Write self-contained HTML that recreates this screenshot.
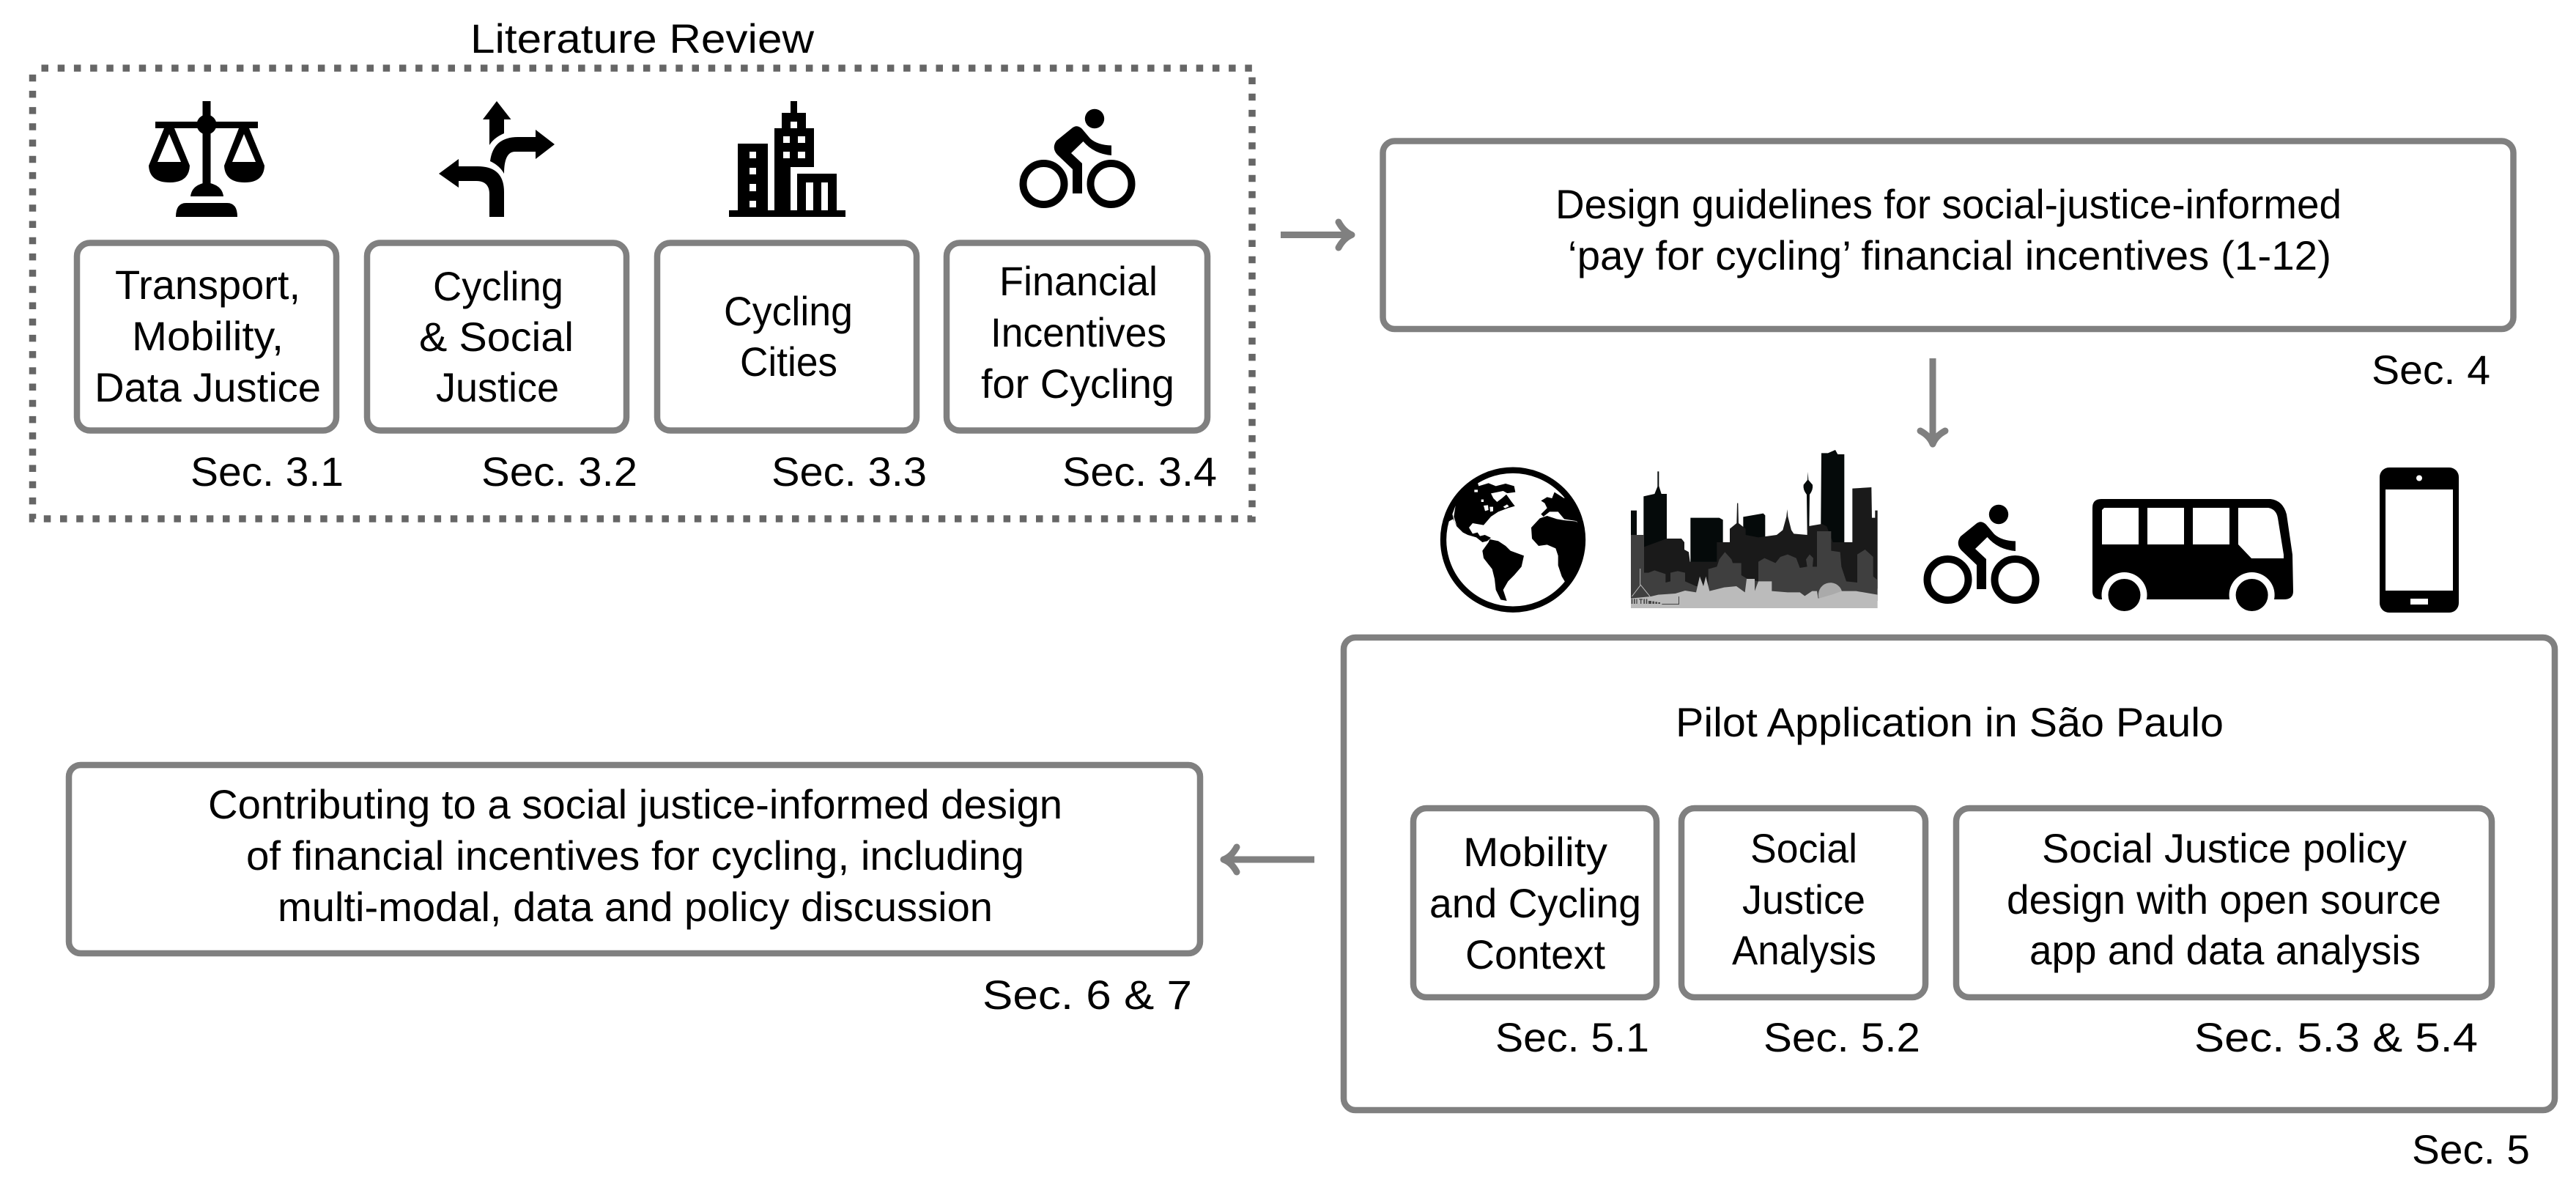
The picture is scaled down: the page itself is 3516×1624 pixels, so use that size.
<!DOCTYPE html>
<html lang="en"><head><meta charset="utf-8"><title>Diagram</title>
<style>
html,body{margin:0;padding:0;background:#fff;width:3516px;height:1624px;overflow:hidden}
svg{display:block}
text{font-family:"Liberation Sans",sans-serif;font-size:56px;fill:#000}
.b{fill:#fff;stroke:#808080;stroke-width:8.5}
.a{fill:none;stroke:#808080;stroke-width:9}
.h{fill:none;stroke:#808080;stroke-width:9;stroke-linecap:round;stroke-linejoin:round}
</style></head><body>
<svg width="3516" height="1624" viewBox="0 0 3516 1624" xmlns="http://www.w3.org/2000/svg">
<defs>
<clipPath id="gc"><circle cx="330" cy="320" r="285"/></clipPath>
<g id="cyc">
<circle cx="1424.5" cy="251" r="28" fill="none" stroke="#000" stroke-width="10"/>
<circle cx="1516.5" cy="251" r="28" fill="none" stroke="#000" stroke-width="10"/>
<circle cx="1494" cy="162" r="13.2"/>
<path d="M1463,175Q1470,169 1477,176L1488,189Q1498,198 1517,198.500L1517,212Q1493,210 1478.500,193L1462,209L1477,223L1477,264L1464,264L1464,231L1443,211Q1435,202 1442,192Z"/>
</g>
</defs>

<!-- literature review -->
<rect x="44.500" y="93" width="1664.500" height="615" fill="none" stroke="#666" stroke-width="9.500" stroke-dasharray="9.500 12.700" stroke-dashoffset="-12"/>
<text x="642" y="72" textLength="469" lengthAdjust="spacingAndGlyphs">Literature Review</text>

<!-- scales icon -->
<g>
<rect x="276.500" y="138" width="11" height="120"/>
<rect x="212" y="166" width="140" height="9"/>
<circle cx="282" cy="170" r="13.500"/>
<path d="M260,268Q262,252 282,249Q303,252 305,268Z"/>
<path d="M240,296Q240,277 254,277L310,277Q324,277 324,296Z"/>
<path fill-rule="evenodd" d="M224,175L238,175L259,226Q258,249 232,249Q204,249 203,226ZM231,183L215,221L247,221Z"/>
<path fill-rule="evenodd" d="M326,175L340,175L361,226Q360,249 334,249Q307,249 306,226ZM333,183L317,221L349,221Z"/>
</g>
<!-- arrows icon -->
<path d="M678,138L697.500,163L688,163L688,182Q674,188 668,198L668,163L659,163Z"/>
<path d="M757,197L731,217L731,207L703,207Q688,207 688,237Q682,226 669,220Q673,187 707,187L731,187L731,177Z" />
<path d="M599,237L626,217L626,227L652,227Q688,227 688,262L688,296L668,296L668,265Q668,247 650,247L626,247L626,256Z"/>
<!-- building icon -->
<path fill-rule="evenodd" d="M995,287L1007,287L1007,196L1048,196L1048,287L1057,287L1057,175L1067,175L1067,154L1079,154L1079,138L1088,138L1088,154L1100,154L1100,175L1111,175L1111,228L1079,228L1079,287L1088,287L1088,237L1142,237L1142,287L1154,287L1154,296L995,296Z
M1023,207h9v9h-9zM1023,229h9v9h-9zM1023,251h9v10h-9zM1023,274h9v9h-9z
M1079,166h9v9h-9zM1069,186h9v9h-9zM1089,186h10v9h-10zM1069,207h9v9h-9zM1089,207h10v9h-10z
M1100,249h10v38h-10zM1121,249h9v38h-9z"/>
<use href="#cyc"/>

<!-- boxes row -->
<rect class="b" x="105" y="331.500" width="354" height="256" rx="18"/>
<rect class="b" x="501" y="331.500" width="354" height="256" rx="18"/>
<rect class="b" x="897" y="331.500" width="354" height="256" rx="18"/>
<rect class="b" x="1292" y="331.500" width="356" height="256" rx="18"/>
<text x="157" y="408" textLength="253" lengthAdjust="spacingAndGlyphs">Transport,</text>
<text x="180" y="478" textLength="207" lengthAdjust="spacingAndGlyphs">Mobility,</text>
<text x="129" y="548" textLength="309" lengthAdjust="spacingAndGlyphs">Data Justice</text>
<text x="591" y="410" textLength="178" lengthAdjust="spacingAndGlyphs">Cycling</text>
<text x="572" y="479" textLength="211" lengthAdjust="spacingAndGlyphs">&amp; Social</text>
<text x="595" y="548" textLength="168" lengthAdjust="spacingAndGlyphs">Justice</text>
<text x="988" y="444" textLength="176" lengthAdjust="spacingAndGlyphs">Cycling</text>
<text x="1010" y="513" textLength="133" lengthAdjust="spacingAndGlyphs">Cities</text>
<text x="1364" y="403" textLength="216" lengthAdjust="spacingAndGlyphs">Financial</text>
<text x="1352" y="473" textLength="240" lengthAdjust="spacingAndGlyphs">Incentives</text>
<text x="1339" y="543" textLength="264" lengthAdjust="spacingAndGlyphs">for Cycling</text>
<text x="260" y="663" textLength="209" lengthAdjust="spacingAndGlyphs">Sec. 3.1</text>
<text x="657" y="663" textLength="213" lengthAdjust="spacingAndGlyphs">Sec. 3.2</text>
<text x="1053" y="663" textLength="212" lengthAdjust="spacingAndGlyphs">Sec. 3.3</text>
<text x="1450" y="663" textLength="211" lengthAdjust="spacingAndGlyphs">Sec. 3.4</text>

<!-- arrows -->
<path class="a" d="M1748,320.500H1842"/>
<path class="h" d="M1827,303Q1834,316 1845,320.500Q1834,325 1827,338"/>
<path class="a" d="M2638,489V603"/>
<path class="h" d="M2621,588Q2634,595 2638,606Q2642,595 2655,588"/>
<path class="a" d="M1794,1173H1673"/>
<path class="h" d="M1688,1156Q1681,1169 1670,1173Q1681,1177 1688,1190"/>

<!-- design guidelines -->
<rect class="b" x="1887.500" y="192.500" width="1543" height="256.500" rx="16"/>
<text x="2123" y="298" textLength="1073" lengthAdjust="spacingAndGlyphs">Design guidelines for social-justice-informed</text>
<text x="2140" y="368" textLength="1042" lengthAdjust="spacingAndGlyphs">‘pay for cycling’ financial incentives (1-12)</text>
<text x="3237" y="524" textLength="162" lengthAdjust="spacingAndGlyphs">Sec. 4</text>

<!-- globe -->
<g transform="translate(1955,630) scale(.33333)">
<circle cx="330" cy="320" r="285" fill="#fff" stroke="#000" stroke-width="25"/>
<g clip-path="url(#gc)">
<path d="M40,260L85,235L100,265L125,290L145,300L180,310L205,330L225,325L240,312L215,300L195,305L185,290L165,295L150,270L165,252L210,260L240,225L270,205L310,190L338,182L325,165L300,130L340,125L335,100L300,90L260,100L230,88L190,100L170,40L40,100Z"/>
<path fill="#fff" d="M240,130L290,120L308,130L285,150L265,165L250,150Z M200,155l10,0l0,10l-10,0z M210,180l18,-2l2,20l-14,4z M235,185l14,0l0,18l-12,2z M290,185l16,-10l8,8l-16,8z M172,115l14,0l0,10l-14,0z M82,215L95,180L88,225L100,262L90,245Z"/>
<path d="M235,318L270,325L300,345L320,365L375,385L365,430L335,465L310,490L290,525L305,570L280,565L260,525L255,480L245,440L210,395L205,365L230,330Z"/>
<path d="M440,232L470,222L510,235L540,240L590,245L600,262L650,262L650,420L545,495L530,470L515,425L515,385L505,355L470,340L435,345L408,315L405,270Z"/>
<path d="M445,215L470,190L460,170L445,160L470,145L490,150L500,125L540,150L560,115L620,200L600,245L540,235L515,205L480,205L455,225Z"/>
</g>
</g>

<!-- city skyline -->
<g transform="translate(2200,590) scale(.33333)">
<g fill="#050a0a">
<path d="M187,160h6v60l10,32h22v300H130V262l45,-10l12,-30z"/>
<rect x="78" y="320" width="24" height="110"/>
<path d="M322,350L440,350L455,358V600L380,600L322,530Z"/>
<path d="M538,346L620,332L628,340V560H538Z"/>
<path d="M858,85L885,85L915,72L925,90L952,90V480H855Z"/>
<path d="M800,400L798,255Q782,235 785,215L801,195L803,162L805,195L822,215Q825,235 810,255L808,400Z"/>
</g>
<path fill="#1a1a1a" d="M225,435L285,435L297,450L297,480L315,490L320,530L345,530L430,530L430,450L483,450L483,395L511,372L513,290L517,290L519,372L548,395L548,420L600,430L675,420L700,400L715,345L718,315L721,345L735,400L745,415L800,420L800,385L860,375L880,385L905,450L985,450L985,230L1063,225L1065,350L1078,350L1078,320L1088,320L1088,640L78,640L78,420L130,470Z"/>
<path fill="#3f3f3f" d="M78,420L132,420L132,575L150,575L175,565L220,580L220,615L240,610L240,575L270,568L300,575L300,610L345,630L395,630L395,560L430,550L440,520L463,490L490,520L495,535L530,535L530,585L555,600L600,610L600,530L625,515L670,535L690,510L720,500L755,515L770,555L800,550L795,520L810,500L825,515L822,550L840,550L840,405L898,405L898,485L935,490L940,550L960,610L1005,615L1005,500L1037,480L1070,510L1070,590L1088,605L1088,690L78,690Z"/>
<path fill="#bbb" d="M78,680L160,672L190,665L260,660L300,648L345,655L360,590L375,630L385,590L400,650L460,635L510,630L545,655L552,600L585,600L585,650L600,610L655,610L655,650L720,655L770,655L790,670L820,650L840,650L845,680L940,650L1000,650L1088,665L1088,720L78,720Z"/>
<path fill="#aaa" d="M848,680A47,47 0 0 1 942,650L900,665Z"/>
<g fill="none" stroke="#bbb" stroke-width="3"><path d="M116,558V625M82,672L118,625L156,672"/></g>
<g fill="#444"><path d="M205,702H273V672H276V705H205Z"/><path d="M80,682h5v20h-5zM90,682h5v20h-5zM100,682h4v20h-4zM112,682h14v4h-5v16h-4v-16h-5zM130,682h5v20h-5zM140,682h5v20h-5zM150,690h12v12h-12zM166,692h8v10h-8zM178,694h8v8h-8zM190,696h8v6h-8z"/></g>
</g>

<use href="#cyc" transform="translate(1234,540)"/>

<!-- bus -->
<path fill-rule="evenodd" d="M2868,681L3099,681Q3116,683 3121,702L3129,757L3130,807Q3130,818 3117,818L2868,818Q2856,818 2856,807L2856,693Q2856,681 2868,681Z
M2872,693L2919,693V743H2869V696ZM2931,693H2981V743H2931ZM2993,693H3043V743H2993ZM3055,693H3096Q3107,695 3109,707L3117,757V762H3073L3055,743Z"/>
<circle cx="2899.500" cy="812" r="31" fill="#fff"/>
<circle cx="3073.600" cy="812" r="31" fill="#fff"/>
<rect x="2860" y="820" width="280" height="20" fill="#fff"/>
<circle cx="2899.500" cy="812" r="22"/>
<circle cx="3073.600" cy="812" r="22"/>

<!-- phone -->
<rect x="3248" y="638" width="108" height="198" rx="13"/>
<rect x="3256" y="668" width="92" height="138" fill="#fff"/>
<circle cx="3302" cy="652.500" r="4" fill="#fff"/>
<rect x="3290" y="817" width="24" height="8" fill="#fff"/>

<!-- pilot -->
<rect class="b" x="1834" y="870" width="1653" height="645" rx="16"/>
<text x="2287" y="1005" textLength="748" lengthAdjust="spacingAndGlyphs">Pilot Application in São Paulo</text>
<rect class="b" x="1929" y="1103" width="332" height="258" rx="18"/>
<rect class="b" x="2295" y="1103" width="333" height="258" rx="18"/>
<rect class="b" x="2670" y="1103" width="731" height="258" rx="18"/>
<text x="1997" y="1182" textLength="197" lengthAdjust="spacingAndGlyphs">Mobility</text>
<text x="1951" y="1252" textLength="289" lengthAdjust="spacingAndGlyphs">and Cycling</text>
<text x="2000" y="1322" textLength="191" lengthAdjust="spacingAndGlyphs">Context</text>
<text x="2389" y="1177" textLength="146" lengthAdjust="spacingAndGlyphs">Social</text>
<text x="2378" y="1247" textLength="168" lengthAdjust="spacingAndGlyphs">Justice</text>
<text x="2364" y="1316" textLength="197" lengthAdjust="spacingAndGlyphs">Analysis</text>
<text x="2787" y="1177" textLength="498" lengthAdjust="spacingAndGlyphs">Social Justice policy</text>
<text x="2739" y="1247" textLength="593" lengthAdjust="spacingAndGlyphs">design with open source</text>
<text x="2770" y="1316" textLength="534" lengthAdjust="spacingAndGlyphs">app and data analysis</text>
<text x="2041" y="1435" textLength="210" lengthAdjust="spacingAndGlyphs">Sec. 5.1</text>
<text x="2407" y="1435" textLength="214" lengthAdjust="spacingAndGlyphs">Sec. 5.2</text>
<text x="2995" y="1435" textLength="387" lengthAdjust="spacingAndGlyphs">Sec. 5.3 &amp; 5.4</text>
<text x="3292" y="1588" textLength="161" lengthAdjust="spacingAndGlyphs">Sec. 5</text>

<!-- contributing -->
<rect class="b" x="94" y="1044" width="1544" height="257" rx="16"/>
<text x="284" y="1117" textLength="1166" lengthAdjust="spacingAndGlyphs">Contributing to a social justice-informed design</text>
<text x="336" y="1187" textLength="1062" lengthAdjust="spacingAndGlyphs">of financial incentives for cycling, including</text>
<text x="379" y="1257" textLength="976" lengthAdjust="spacingAndGlyphs">multi-modal, data and policy discussion</text>
<text x="1341" y="1377" textLength="286" lengthAdjust="spacingAndGlyphs">Sec. 6 &amp; 7</text>
</svg>
</body></html>
